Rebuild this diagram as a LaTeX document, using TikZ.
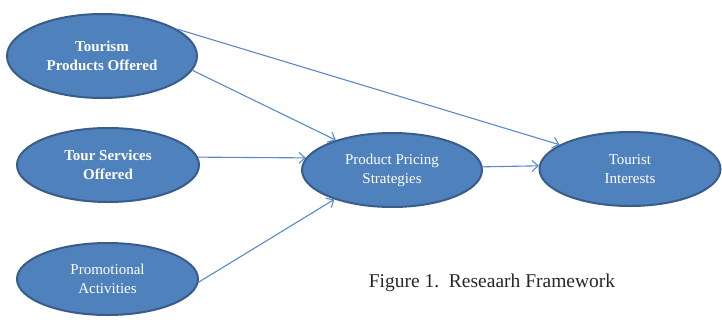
\documentclass[tikz,border=0pt]{standalone}
\usepackage{fontspec}
\setmainfont{Liberation Serif}
\usetikzlibrary{shapes.geometric,arrows.meta}
\definecolor{efill}{HTML}{4F81BD}
\definecolor{edraw}{HTML}{385D8A}
\definecolor{arr}{HTML}{5A8AC6}
\tikzset{
  ell/.style={ellipse, fill=efill, draw=edraw, line width=2bp, inner sep=0pt,
    text=white, align=center, font=\fontsize{15bp}{19bp}\selectfont},
  conn/.style={draw=arr, line width=1.1bp, -{Straight Barb[length=6bp,width=11bp]}},
  captext/.style={font=\fontsize{19.5bp}{23bp}\selectfont, text=black!85}
}
\begin{document}
\begin{tikzpicture}[x=1bp,y=-1bp]
\useasboundingbox (0,0) rectangle (722,328);
\node[ell, minimum width=190bp, minimum height=84bp] (e1) at (102,56) {\textbf{Tourism}\\\textbf{Products Offered}};
\node[ell, minimum width=182bp, minimum height=74bp] (e2) at (108,165) {\textbf{Tour Services}\\\textbf{Offered}};
\node[ell, minimum width=181bp, minimum height=72bp] (e3) at (107.5,279) {Promotional\\Activities};
\node[ell, minimum width=180bp, minimum height=74bp] (ep) at (392,170) {Product Pricing\\Strategies};
\node[ell, minimum width=181bp, minimum height=74bp] (et) at (630,169) {Tourist\\Interests};
\node[captext] (caption) at (492,283) {Figure 1.\ \ Reseaarh Framework};
\draw[conn] (e1.20) -- (et.161);
\draw[conn] (e1.-9) -- (ep.152);
\draw[conn] (e2.5.5) -- (ep.172.7);
\draw[conn] (e3.-2) -- (ep.207);
\draw[conn] (ep.2) -- (et.178);
\end{tikzpicture}
\end{document}
